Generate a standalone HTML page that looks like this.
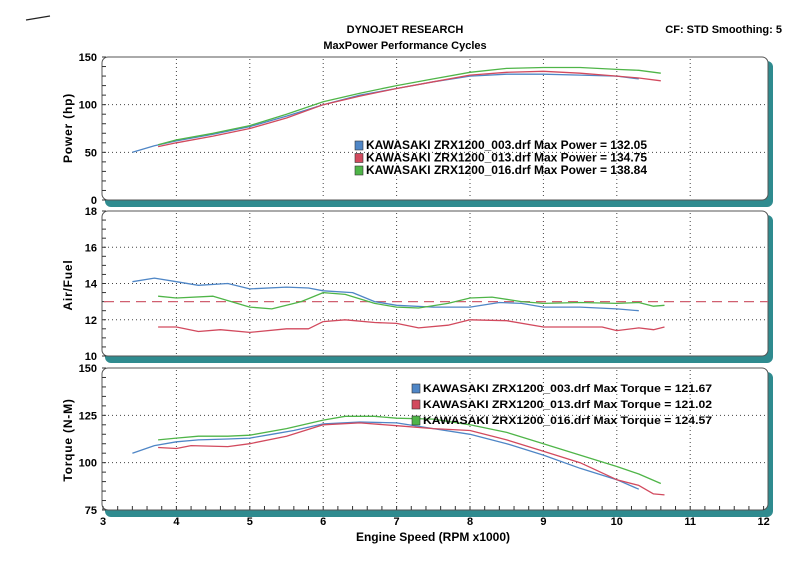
<!DOCTYPE html>
<html><head><meta charset="utf-8"><style>
html,body{margin:0;padding:0;background:#fff;}
svg{display:block;font-family:"Liberation Sans",sans-serif;}
</style></head><body>
<svg id="chart" width="800" height="582" viewBox="0 0 800 582">
<line x1="26" y1="20" x2="50" y2="16" stroke="#222" stroke-width="1.2"/>
<text x="405" y="33" font-size="11" font-weight="bold" text-anchor="middle">DYNOJET RESEARCH</text>
<text x="405" y="49" font-size="11" font-weight="bold" text-anchor="middle">MaxPower Performance Cycles</text>
<text x="782" y="33" font-size="11" font-weight="bold" text-anchor="end">CF: STD  Smoothing: 5</text>
<g id="g"></g>
</svg>
<script>
const rpmTicks=[3,4,5,6,7,8,9,10,11,12];
const pwrBlueX=[3.4,3.7,4,4.5,5,5.5,6,6.5,7,7.5,8,8.5,9,9.5,10,10.3];
const pwrBlueY=[50,57,62,69,77,88,100,110,117,124,130,132,132,131,130,127];
const pwrRedX=[3.75,4,4.5,5,5.5,6,6.5,7,7.5,8,8.5,9,9.5,10,10.3,10.6];
const pwrRedY=[56,60,67,75,86,100,109,117,124,131,134,135,133,130,128,125];
const pwrGreenX=[3.75,4,4.5,5,5.5,6,6.5,7,7.5,8,8.5,9,9.5,10,10.3,10.6];
const pwrGreenY=[58,63,70,78,90,103,112,120,127,134,138,139,139,137,136,133];
const afrBlueX=[3.4,3.7,4,4.3,4.7,5,5.5,5.8,6,6.4,6.7,7,7.5,8,8.4,8.7,9,9.5,10,10.3];
const afrBlueY=[14.1,14.3,14.1,13.9,14.0,13.7,13.8,13.75,13.6,13.5,13.0,12.8,12.7,12.7,12.95,12.9,12.7,12.7,12.6,12.5];
const afrGreenX=[3.75,4,4.5,5,5.3,5.7,6,6.3,6.7,7,7.3,7.7,8,8.3,8.7,9,9.5,10,10.3,10.5,10.65];
const afrGreenY=[13.3,13.2,13.3,12.7,12.6,13.0,13.5,13.4,12.9,12.7,12.65,12.9,13.2,13.25,13.0,12.9,12.95,12.9,12.95,12.75,12.8];
const afrRedX=[3.75,4,4.3,4.6,5,5.5,5.8,6,6.3,6.7,7,7.3,7.7,8,8.5,9,9.5,9.8,10,10.3,10.5,10.65];
const afrRedY=[11.6,11.6,11.35,11.45,11.3,11.5,11.5,11.9,12.0,11.85,11.8,11.55,11.7,12.0,11.95,11.6,11.6,11.6,11.4,11.55,11.45,11.6];
const afrTarget=13.0;
const tqBlueX=[3.4,3.7,4,4.3,4.7,5,5.3,5.6,6,6.5,7,7.5,8,8.5,9,9.5,10,10.3];
const tqBlueY=[105,109,111,112,112.5,113,115,117,120.5,121.5,121,118,115,110,104,97,91,86];
const tqRedX=[3.75,4,4.2,4.7,5,5.5,6,6.5,7,7.5,8,8.5,9,9.5,10,10.3,10.5,10.65];
const tqRedY=[108,107.5,109,108.5,110,114,120,121,119.5,118,117,112,106,100,91,88,83.5,83];
const tqGreenX=[3.75,4,4.3,4.7,5,5.5,6,6.3,6.7,7,7.5,8,8.5,9,9.5,10,10.3,10.6];
const tqGreenY=[112,113,114,114,114.5,118,122.5,124.5,124.5,123.5,123,120,116,110,104,98,94,89];
const pwrLegend=["KAWASAKI ZRX1200_003.drf Max Power = 132.05","KAWASAKI ZRX1200_013.drf Max Power = 134.75","KAWASAKI ZRX1200_016.drf Max Power = 138.84"];
const tqLegend=["KAWASAKI ZRX1200_003.drf Max Torque = 121.67","KAWASAKI ZRX1200_013.drf Max Torque = 121.02","KAWASAKI ZRX1200_016.drf Max Torque = 124.57"];

const NS="http://www.w3.org/2000/svg";
const G=document.getElementById('g');
const COL=["#4f86c6","#d24a5e","#4fb548"];
function X(v){return 103+(v-3)*73.4;}
function mk(tag,attrs,parent){const e=document.createElementNS(NS,tag);for(const k in attrs)e.setAttribute(k,attrs[k]);(parent||G).appendChild(e);return e;}
function panel(name,top,bot,ymin,ymax,ticks,minor,label,labelY){
  const Y=v=>bot-(v-ymin)/(ymax-ymin)*(bot-top);
  const grp=mk('g',{});
  
  
  const sh=mk('rect',{x:105,y:top+4,width:668,height:bot-top+3,rx:6,fill:"#2f8b8f"},grp);
  
  const fr=mk('rect',{x:102,y:top,width:666,height:bot-top,rx:6,fill:"#fff",stroke:"#555","stroke-width":1},grp);
  
  for(const r of rpmTicks.slice(1,-1)){
    const l=mk('line',{x1:X(r),x2:X(r),y1:top+2,y2:bot-2,stroke:"#444","stroke-dasharray":"1,3","stroke-width":1},grp);
    
  }
  ticks.forEach(t=>{
    if(t>ymin&&t<ymax){const l=mk('line',{x1:104,x2:766,y1:Y(t),y2:Y(t),stroke:"#444","stroke-dasharray":"1,3"},grp);
    }
    const tx=mk('text',{x:97,y:Y(t)+4,"font-size":11,"font-weight":"bold","text-anchor":"end"},grp);
    tx.textContent=t;
    
  });
  for(let v=ymin;v<=ymax+1e-9;v+=minor){mk('line',{x1:102,x2:106,y1:Y(v),y2:Y(v),stroke:"#333"},grp);}
  const yl=mk('text',{x:0,y:0,"font-size":12,"font-weight":"bold","text-anchor":"middle","letter-spacing":"0.8",transform:`translate(72,${labelY}) rotate(-90)`},grp);
  yl.textContent=label;
  
  return Y;
}
function line(xs,ys,Y,c,name,extra){
  const p=mk('polyline',Object.assign({points:xs.map((x,i)=>X(x).toFixed(1)+","+Y(ys[i]).toFixed(1)).join(" "),fill:"none",stroke:c,"stroke-width":1.3,"stroke-linejoin":"round"},extra||{}));
  
}
function legend(items,x,y,name,fs,len,step){
  items.forEach((t,i)=>{
    const r=mk('rect',{x:x,y:y+i*step-8,width:8,height:9,fill:COL[i],stroke:"#333","stroke-width":0.6});
    
    const tx=mk('text',{x:x+11,y:y+i*step,"font-size":fs,"font-weight":"bold",textLength:len,lengthAdjust:"spacingAndGlyphs"});
    tx.textContent=t;
    
  });
}
// power
const YP=panel('power-panel',57,200,0,150,[0,50,100,150],10,'Power (hp)',128);
line(pwrBlueX,pwrBlueY,YP,COL[0],'power-series-003');
line(pwrRedX,pwrRedY,YP,COL[1],'power-series-013');
line(pwrGreenX,pwrGreenY,YP,COL[2],'power-series-016');
legend(pwrLegend,355,149,'power-legend',11.5,281,12.5);
// afr
const YA=panel('afr-panel',211,356,10,18,[10,12,14,16,18],0.5,'Air/Fuel',285);
const tl=mk('line',{x1:104,x2:768,y1:YA(afrTarget),y2:YA(afrTarget),stroke:"#d06070","stroke-dasharray":"10,6","stroke-width":1.2});

line(afrBlueX,afrBlueY,YA,COL[0],'afr-series-003');
line(afrGreenX,afrGreenY,YA,COL[2],'afr-series-016');
line(afrRedX,afrRedY,YA,COL[1],'afr-series-013');
// torque
const YT=panel('torque-panel',368,510,75,150,[75,100,125,150],5,'Torque (N-M)',440);
for(let v=3;v<=12.001;v+=0.2){mk('line',{x1:X(v),x2:X(v),y1:506,y2:510,stroke:"#333"});}
line(tqBlueX,tqBlueY,YT,COL[0],'torque-series-003');
line(tqRedX,tqRedY,YT,COL[1],'torque-series-013');
line(tqGreenX,tqGreenY,YT,COL[2],'torque-series-016');
legend(tqLegend,412,392,'torque-legend',11,289,16);
rpmTicks.forEach(r=>{
  const t=mk('text',{x:X(r),y:525,"font-size":11,"font-weight":"bold","text-anchor":"middle"});
  t.textContent=r;
  
});
const xt=mk('text',{x:433,y:541,"font-size":12,"font-weight":"bold","text-anchor":"middle"});
xt.textContent='Engine Speed (RPM x1000)';

</script>
</body></html>
